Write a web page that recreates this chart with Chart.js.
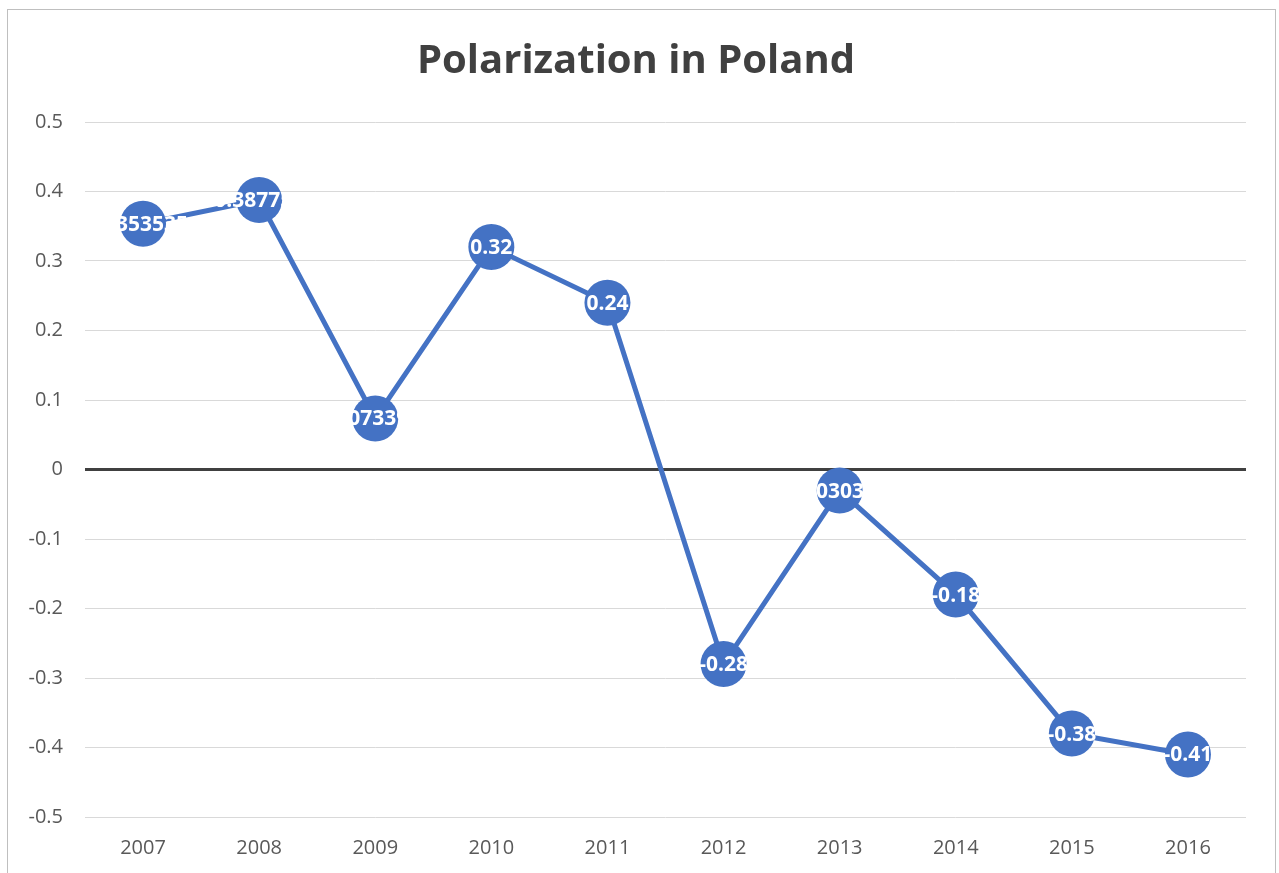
<!DOCTYPE html>
<html>
<head>
<meta charset="utf-8">
<script src="https://cdn.jsdelivr.net/npm/chart.js@4"></script>
<style>
    body { margin: 0; background: #fff; overflow: hidden; }
    #frame {
        position: absolute; left: 7px; top: 9px;
        width: 1267px; height: 900px;
        border: 1px solid #bfbfbf; background: #fff;
    }
    #chart { position: absolute; left: 0; top: 0; }
</style>
</head>
<body>
<div id="frame"><canvas id="chart" width="1267" height="870"></canvas></div>
<script>
// 데이터
const years = ['2007', '2008', '2009', '2010', '2011', '2012', '2013', '2014', '2015', '2016'];
const polarization = [0.353535, 0.387755, 0.073394, 0.32, 0.24, -0.28, -0.030303, -0.18, -0.38, -0.41];
const yTicks = [-0.5, -0.4, -0.3, -0.2, -0.1, 0, 0.1, 0.2, 0.3, 0.4, 0.5];

const blue = '#4472C4';
const font = "'Open Sans', 'DejaVu Sans', sans-serif";

// 점 위에 흰색 값 라벨 그리기
const valueLabels = {
    id: 'valueLabels',
    afterDatasetsDraw(chart) {
        const ctx = chart.ctx;
        const meta = chart.getDatasetMeta(0);
        ctx.save();
        ctx.font = 'bold 21px ' + font;
        ctx.fillStyle = '#ffffff';
        ctx.textAlign = 'center';
        ctx.textBaseline = 'middle';
        meta.data.forEach((pt, i) => {
            ctx.fillText(String(polarization[i]), pt.x, pt.y + 1);
        });
        ctx.restore();
    }
};

const config = {
    type: 'line',
    data: {
        labels: years,
        datasets: [{
            data: polarization,
            borderColor: blue,
            backgroundColor: blue,
            borderWidth: 5,
            pointRadius: 23,
            pointBorderWidth: 0,
            pointBackgroundColor: blue,
            tension: 0
        }]
    },
    options: {
        responsive: false,
        animation: false,
        layout: { padding: { left: 18, right: 29, top: 0, bottom: 0 } },
        plugins: {
            legend: { display: false },
            tooltip: { enabled: false },
            title: {
                display: true,
                text: 'Polarization in Poland',
                color: '#404040',
                font: { family: font, size: 40, weight: 'bold' },
                padding: { top: 28, bottom: 36 }
            }
        },
        scales: {
            x: {
                offset: true,
                grid: { display: false, drawTicks: false },
                border: { display: false },
                ticks: { color: '#595959', font: { family: font, size: 20 }, padding: 19 },
                afterFit(scale) { scale.height = 63; }
            },
            y: {
                min: -0.5,
                max: 0.5,
                afterBuildTicks(scale) { scale.ticks = yTicks.map(v => ({ value: v })); },
                grid: {
                    drawTicks: false,
                    color: c => c.tick && c.tick.value === 0 ? '#404040' : '#d9d9d9',
                    lineWidth: c => c.tick && c.tick.value === 0 ? 3 : 1
                },
                border: { display: false },
                ticks: {
                    color: '#595959',
                    font: { family: font, size: 20 },
                    padding: 22,
                    callback: v => String(Math.round(v * 10) / 10)
                },
                afterFit(scale) { scale.width = 59; }
            }
        }
    },
    plugins: [valueLabels]
};

const polarChart = new Chart(document.getElementById('chart'), config);
</script>
</body>
</html>
